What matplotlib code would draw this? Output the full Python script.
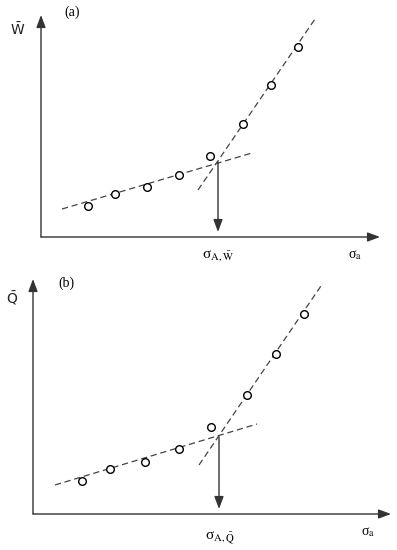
import matplotlib.pyplot as plt

plt.rcParams['mathtext.fontset'] = 'stix'

# panel (a): mean work W vs stress amplitude (schematic units, origin at axis corner)
sig_a = [47, 74, 106, 138, 169, 202, 230, 257]
w_a = [31, 43, 50, 62, 81, 113, 152, 190]
low_a_x, low_a_y = [21, 211], [28, 84]
up_a_x, up_a_y = [157, 274], [47, 218]
cross_a = (177, 75)

# panel (b): mean heat Q vs stress amplitude
sig_b = [49, 77, 112, 146, 178, 214, 243, 271]
q_b = [33, 45, 52, 65, 87, 119, 160, 200]
low_b_x, low_b_y = [22, 224], [29, 90]
up_b_x, up_b_y = [166, 290], [49, 231]
cross_b = (186, 77)

fig = plt.figure(figsize=(3.97, 5.5), dpi=100)

ax_a = fig.add_axes([0, 0.5, 1, 0.5])
ax_a.set_xlim(-41, 356)
ax_a.set_ylim(-38, 237)
ax_b = fig.add_axes([0, 0, 1, 0.5])
ax_b.set_xlim(-33, 364)
ax_b.set_ylim(-36, 239)

axcol = '#333333'
head = dict(arrowstyle='-|>,head_length=0.75,head_width=0.28', color=axcol,
            lw=1.0, shrinkA=0, shrinkB=0)


def panel(ax, xs, ys, lx, ly, ux, uy, cross, xend, yend, ylab, ylab_pos,
          tag, tag_pos, slab, slab_pos, sa_pos):
    ax.axis('off')
    ax.annotate('', xy=(xend, 0), xytext=(0, 0), arrowprops=head)
    ax.annotate('', xy=(0, yend), xytext=(0, 0), arrowprops=head)
    ax.plot(lx, ly, ls=(0, (5, 3)), color='#444444', lw=0.9)
    ax.plot(ux, uy, ls=(0, (5, 3)), color='#444444', lw=0.9)
    ax.plot(xs, ys, 'o', ms=5.5, mfc='white', mec='black', mew=1.0)
    ax.annotate('', xy=(cross[0], 5), xytext=cross, arrowprops=head)
    ax.text(*ylab_pos, ylab, fontsize=10, ha='center', va='center',
            math_fontfamily='dejavusans', color='#222222')
    ax.text(*tag_pos, tag, fontsize=10, ha='center', va='center',
            family='Liberation Serif')
    ax.text(*slab_pos, slab, fontsize=11, ha='center', va='center',
            family='Liberation Serif')
    ax.text(*sa_pos, r'σ$_{\mathrm{a}}$', fontsize=10, ha='center',
            va='center', family='Liberation Serif')


panel(ax_a, sig_a, w_a, low_a_x, low_a_y, up_a_x, up_a_y, cross_a, 339, 222,
      r'$\bar{\mathrm{W}}$', (-23, 207), '(a)', (31, 225),
      r'σ$_{\mathrm{A},\bar{\mathrm{W}}}$', (177, -19), (314, -18))
panel(ax_b, sig_b, q_b, low_b_x, low_b_y, up_b_x, up_b_y, cross_b, 358, 235,
      r'$\bar{\mathrm{Q}}$', (-21, 216), '(b)', (33, 231),
      r'σ$_{\mathrm{A},\bar{\mathrm{Q}}}$', (187, -24), (335, -18))

fig.savefig('out.png', dpi=100)
